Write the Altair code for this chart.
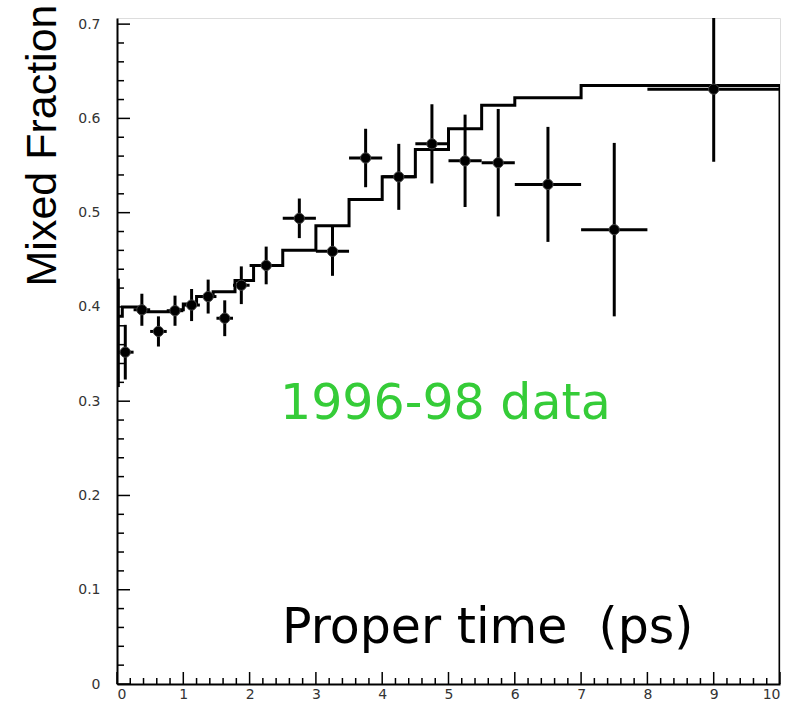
import altair as alt
import pandas as pd

# ---- data points (bin centre, half width, mixed fraction, error) ----
t_center = [0.125, 0.375, 0.625, 0.875, 1.125, 1.375, 1.625, 1.875,
            2.25, 2.75, 3.25, 3.75, 4.25, 4.75, 5.25, 5.75,
            6.5, 7.5, 9.0]
t_half = [0.125, 0.125, 0.125, 0.125, 0.125, 0.125, 0.125, 0.125,
          0.25, 0.25, 0.25, 0.25, 0.25, 0.25, 0.25, 0.25,
          0.5, 0.5, 1.0]
frac = [0.352, 0.397, 0.374, 0.396, 0.402, 0.411, 0.388, 0.423,
        0.444, 0.494, 0.459, 0.558, 0.538, 0.573, 0.555, 0.553,
        0.530, 0.482, 0.631]
frac_err = [0.029, 0.017, 0.016, 0.016, 0.017, 0.018, 0.019, 0.020,
            0.020, 0.021, 0.026, 0.031, 0.035, 0.042, 0.049, 0.057,
            0.061, 0.092, 0.077]

# extra error segment on the first (very narrow) bin at t ~ 0
edge_t = [0.02]
edge_lo = [0.315]
edge_hi = [0.430]

# ---- expectation histogram (step edges and levels) ----
hist_x = [0.0, 0.08, 0.35, 0.83, 1.0, 1.2, 1.45, 1.78, 2.06, 2.5, 3.0,
          3.5, 4.0, 4.5, 5.0, 5.5, 6.0, 7.0, 8.0, 10.0, 10.0]
hist_y = [0.390, 0.400, 0.395, 0.397, 0.403, 0.411, 0.416, 0.428, 0.444,
          0.460, 0.486, 0.514, 0.538, 0.567, 0.589, 0.614, 0.622, 0.635,
          0.635, 0.635, 0.0]

# ---- axis ticks ----
x_major = [0, 1, 2, 3, 4, 5, 6, 7, 8, 9, 10]
x_minor = [round(i * 0.2, 2) for i in range(51) if i % 5 != 0]
y_major = [0.0, 0.1, 0.2, 0.3, 0.4, 0.5, 0.6, 0.7]
y_minor = [round(i * 0.02, 2) for i in range(36) if i % 5 != 0]

y_title = "Mixed Fraction"
x_title = "Proper time\u00a0\u00a0(ps)"
note = "1996-98 data"

W, H = 663, 666

pts = pd.DataFrame({"t": t_center, "h": t_half, "f": frac, "e": frac_err})
pts["lo"] = pts["t"] - pts["h"]
pts["hi"] = pts["t"] + pts["h"]
pts["flo"] = pts["f"] - pts["e"]
pts["fhi"] = pts["f"] + pts["e"]
hist = pd.DataFrame({"x": hist_x, "y": hist_y, "i": list(range(len(hist_x)))})
edge = pd.DataFrame({"t": edge_t, "lo": edge_lo, "hi": edge_hi})

xs = alt.Scale(domain=[0, 10], nice=False, zero=False)
ys = alt.Scale(domain=[0, 0.7065], nice=False, zero=False)

x_axis = alt.Axis(values=x_major, title=None, grid=False, ticks=False, tickSize=0,
                  labelFont="DejaVu Sans", labelFontSize=14, labelColor="#333333",
                  labelPadding=3, domainColor="black", domainWidth=2, format="d")
y_axis = alt.Axis(values=y_major, title=y_title, grid=False, ticks=False, tickSize=0,
                  labelFont="DejaVu Sans", labelFontSize=14, labelColor="#333333",
                  labelPadding=17, domainColor="black", domainWidth=2,
                  labelExpr="datum.value == 0 ? '0' : format(datum.value, '.1f')",
                  titleFont="Liberation Sans", titleFontSize=43, titleFontWeight="normal",
                  titleColor="black", titleAngle=270, titleX=-62, titleY=127,
                  titleAlign="center", titleBaseline="alphabetic")

hist_layer = alt.Chart(hist).mark_line(
    interpolate="step-after", color="black", strokeWidth=3, clip=True
).encode(
    x=alt.X("x:Q", scale=xs, axis=x_axis),
    y=alt.Y("y:Q", scale=ys, axis=y_axis),
    order="i:O",
)

xerr = alt.Chart(pts).mark_rule(color="black", strokeWidth=3, clip=True).encode(
    x=alt.X("lo:Q", scale=xs), x2="hi:Q", y=alt.Y("f:Q", scale=ys)
)
yerr = alt.Chart(pts).mark_rule(color="black", strokeWidth=3, clip=True).encode(
    x=alt.X("t:Q", scale=xs), y=alt.Y("flo:Q", scale=ys), y2="fhi:Q"
)
edge_layer = alt.Chart(edge).mark_rule(color="black", strokeWidth=3, clip=True).encode(
    x=alt.X("t:Q", scale=xs), y=alt.Y("lo:Q", scale=ys), y2="hi:Q"
)
dots = alt.Chart(pts).mark_point(
    shape="circle", filled=True, color="black", size=105, opacity=1,
    stroke="#444444", strokeWidth=1, clip=True
).encode(x=alt.X("t:Q", scale=xs), y=alt.Y("f:Q", scale=ys))

xmaj = alt.Chart(pd.DataFrame({"v": x_major})).mark_rule(color="black", strokeWidth=1.5).encode(
    x=alt.X("v:Q", scale=xs), y=alt.value(H), y2=alt.value(H - 12))
xmin = alt.Chart(pd.DataFrame({"v": x_minor})).mark_rule(color="black", strokeWidth=1.5).encode(
    x=alt.X("v:Q", scale=xs), y=alt.value(H), y2=alt.value(H - 6))
ymaj = alt.Chart(pd.DataFrame({"v": y_major})).mark_rule(color="black", strokeWidth=1.5).encode(
    y=alt.Y("v:Q", scale=ys), x=alt.value(0), x2=alt.value(13))
ymin = alt.Chart(pd.DataFrame({"v": y_minor})).mark_rule(color="black", strokeWidth=1.5).encode(
    y=alt.Y("v:Q", scale=ys), x=alt.value(0), x2=alt.value(7))

note_layer = alt.Chart(pd.DataFrame({"s": [note]})).mark_text(
    font="DejaVu Sans", fontSize=49, color="#35cc38", align="left", baseline="alphabetic"
).encode(text="s:N", x=alt.value(163), y=alt.value(401))
xt_layer = alt.Chart(pd.DataFrame({"s": [x_title]})).mark_text(
    font="DejaVu Sans", fontSize=49, color="black", align="left", baseline="alphabetic"
).encode(text="s:N", x=alt.value(165), y=alt.value(625))

chart = alt.layer(
    hist_layer, xmaj, xmin, ymaj, ymin, edge_layer, xerr, yerr, dots, note_layer, xt_layer
).properties(
    width=W, height=H,
    padding={"left": 117, "top": 18, "right": 17, "bottom": 20},
    autosize=alt.AutoSizeParams(type="none"),
).configure_view(stroke="#555555", strokeWidth=1.5).configure(background="white")

chart.save("out.html", embed_options={"renderer": "svg", "actions": False})
